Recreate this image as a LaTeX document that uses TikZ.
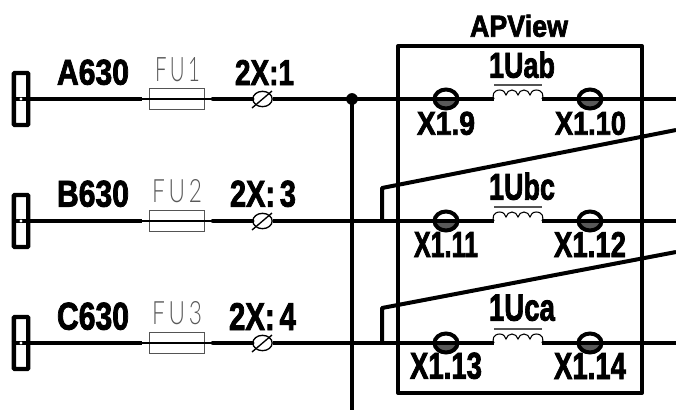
\documentclass[tikz,border=0pt]{standalone}
\usepackage{graphicx}
\usepackage{fontspec}
\setmainfont[BoldFeatures={FakeBold=2.4}]{Liberation Sans}
\newfontfamily\fulight[UprightFont=* Light]{Lato}
\usetikzlibrary{shapes.geometric}
\definecolor{thinline}{gray}{0.33}
\definecolor{fulabel}{gray}{0.35}
\tikzset{
  wire/.style={line width=3pt,line cap=round,line join=round,black},
  thinwire/.style={line width=1pt,black},
  fusebox/.style={draw=thinline,line width=1.1pt,fill=white,minimum width=41.5pt,minimum height=15.5pt,inner sep=0},
  screw/.style={ellipse,draw=black,line width=1pt,fill=white,minimum width=14.5pt,minimum height=11.5pt,inner sep=0},
  terminal/.style={ellipse,draw=black,line width=3pt,fill=white,minimum width=17.25pt,minimum height=14.25pt,inner sep=0,
    path picture={\fill[black!65] (path picture bounding box.west) rectangle (path picture bounding box.south east);}},
  barnode/.style={draw=black,line width=3.2pt,fill=white,rounded corners=0.5pt,minimum width=10.7pt,minimum height=39pt,inner sep=0},
  lab/.style={inner sep=0,outer sep=0,anchor=south west},
  boldlab/.style={lab,font=\bfseries},
  greylab/.style={lab,text=fulabel,font=\fulight},
}
\newcommand\lab[7]{%
  \pgfmathsetlengthmacro\labw{(#3-#2)*0.75pt}%
  \pgfmathsetlengthmacro\labh{(#5-#4)*0.75pt}%
  \node[#6] (#1) at (#2,#5) {\resizebox{\labw}{\labh}{#7}};}
\begin{document}
\begin{tikzpicture}[x=0.75pt,y=-0.75pt]
\useasboundingbox (0,0) rectangle (676,412);
% enclosure
\node[draw=black,line width=3pt,line join=round,minimum width=183pt,minimum height=260.25pt,inner sep=0,anchor=north west] (box) at (396,44) {};
% bus
\coordinate (busend) at (352,410);
\coordinate (busstart) at (352,99);
\draw[wire,line cap=butt] (busstart) -- (busend);
\fill[black] (busstart) circle (4.4pt);
% rows
\foreach \r/\y in {1/99,2/221,3/343}{
  \coordinate (rowend\r) at (676,\y);
  \coordinate (coilL\r) at (494,\y);
  \coordinate (coilR\r) at (542,\y);
  \node[barnode] (bar\r) at (21,\y) {};
  \node[fusebox] (fuse\r) at (177,\y) {};
  \node[screw] (screw\r) at (262.5,\y) {};
  \node[terminal] (xa\r) at (446,\y) {};
  \node[terminal] (xb\r) at (590,\y) {};
  \coordinate (fusein\r) at (142,\y);
  \coordinate (fuseout\r) at (213,\y);
  \draw[wire,line cap=butt,line width=3.4pt] (bar\r.west) -- (fusein\r);
  \draw[thinwire] (fusein\r) -- (fuseout\r);
  \draw[wire,line width=3.4pt] (fuseout\r) -- (screw\r.west);
  \draw[wire,line width=3.4pt,line cap=butt] (screw\r.east) -- (xa\r.center) -- (coilL\r);
  \draw[wire,line cap=butt] (coilR\r) -- (xb\r.center) -- (rowend\r);
  \fill[white] (bar\r.center) circle (1.2pt);
  \draw[thinwire] (252,\y+9) -- (272,\y-8);
  \draw[thinline,line width=0.9pt] (494,\y-14) -- (542,\y-14);
  \draw[black,line width=0.8pt] (coilL\r)
    .. controls (492,\y-3) and (493,\y-9) .. (500,\y-9)
    .. controls (504,\y-9) and (505,\y-6) .. (506,\y-4)
    .. controls (507,\y-7) and (509,\y-9) .. (512,\y-9)
    .. controls (515,\y-9) and (517,\y-7) .. (518,\y-4)
    .. controls (519,\y-7) and (521,\y-9) .. (524,\y-9)
    .. controls (527,\y-9) and (529,\y-7) .. (530,\y-4)
    .. controls (531,\y-6) and (532,\y-9) .. (536,\y-9)
    .. controls (543,\y-9) and (544,\y-3) .. (coilR\r);
}
% tap wires
\coordinate (tapb) at (382,221);
\coordinate (tapbk) at (382,188);
\coordinate (tapbend) at (676,130);
\coordinate (tapc) at (382,343);
\coordinate (tapck) at (382,308);
\coordinate (tapcend) at (676,252);
\draw[wire,line cap=butt,line join=round] (tapb) -- (tapbk) -- (tapbend);
\draw[wire,line cap=butt,line join=round] (tapc) -- (tapck) -- (tapcend);
% labels
\lab{tA}{57}{129}{60}{85}{boldlab}{A630}
\lab{tB}{57}{129}{181}{207}{boldlab}{B630}
\lab{tC}{57}{129}{303}{330}{boldlab}{C630}
\lab{tFa}{155}{200}{58}{82}{greylab}{F\,U\,1}
\lab{tFb}{152}{202}{180}{203}{greylab}{F\,U\,2}
\lab{tFc}{152}{202}{302}{325}{greylab}{F\,U\,3}
\lab{tSa}{235}{294}{60}{85}{boldlab}{2X:1}
\lab{tSb}{230}{296}{181}{207}{boldlab}{2X:\,3}
\lab{tSc}{229}{296}{303}{330}{boldlab}{2X:\,4}
\lab{tAP}{470}{568}{15}{37}{boldlab}{APView}
\lab{tUa}{489}{555}{52}{78}{boldlab}{1Uab}
\lab{tUb}{489}{555}{173}{200}{boldlab}{1Ubc}
\lab{tUc}{489}{555}{295}{321}{boldlab}{1Uca}
\lab{tXa}{417}{475}{112}{135}{boldlab}{X1.9}
\lab{tXb}{555}{626}{112}{135}{boldlab}{X1.10}
\lab{tXc}{414}{478}{232}{257}{boldlab}{X1.11}
\lab{tXd}{554}{626}{232}{257}{boldlab}{X1.12}
\lab{tXe}{410}{482}{353}{379}{boldlab}{X1.13}
\lab{tXf}{554}{626}{353}{379}{boldlab}{X1.14}
\end{tikzpicture}
\end{document}
